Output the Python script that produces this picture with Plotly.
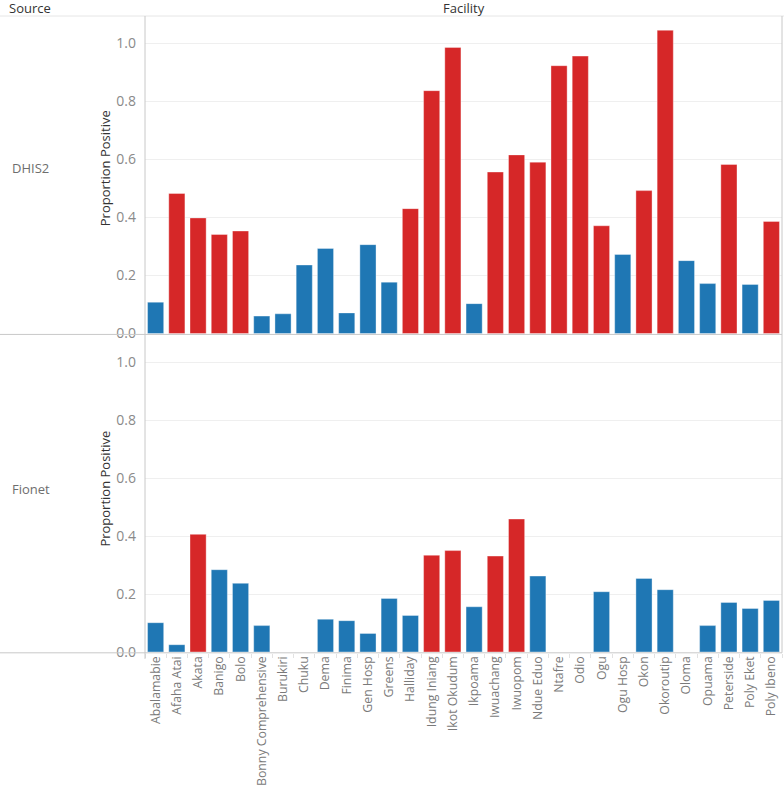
import plotly.graph_objects as go
from plotly.subplots import make_subplots

facilities = [
    "Abalamabie", "Afaha Atai", "Akata", "Banigo", "Bolo", "Bonny Comprehensive",
    "Burukiri", "Chuku", "Dema", "Finima", "Gen Hosp", "Greens", "Halliday",
    "Idung Iniang", "Ikot Okudum", "Ikpoama", "Iwuachang", "Iwuopom", "Ndue Eduo",
    "Ntafre", "Odio", "Ogu", "Ogu Hosp", "Okon", "Okoroutip", "Oloma", "Opuama",
    "Peterside", "Poly Eket", "Poly Ibeno",
]
dhis2 = [
    0.108, 0.482, 0.398, 0.341, 0.353, 0.060, 0.068, 0.236, 0.293, 0.071,
    0.306, 0.177, 0.430, 0.836, 0.985, 0.103, 0.556, 0.615, 0.590, 0.922,
    0.955, 0.371, 0.272, 0.492, 1.044, 0.251, 0.172, 0.582, 0.169, 0.386,
]
fionet = [
    0.101, 0.025, 0.406, 0.284, 0.237, 0.091, None, None, 0.113, 0.108,
    0.064, 0.185, 0.126, 0.334, 0.350, 0.156, 0.331, 0.459, 0.262, None,
    None, 0.208, None, 0.254, 0.215, None, 0.091, 0.171, 0.150, 0.178,
]
sources = ["DHIS2", "Fionet"]
threshold = 0.32

RED = "#d62728"
BLUE = "#1f77b4"
GRID = "#efefef"
BORDER = "#c8c8c8"
FONT = "Open Sans"

W, H = 784, 791
FIG_H = 800  # page height; positions below are laid out on a 791px grid
x0, x1 = 145, 782
top_t, top_b = 16, 334
bot_t, bot_b = 335, 652
row_label_y = [168, 488]


def py(p):
    return 1 - p / H


fig = make_subplots(rows=2, cols=1, shared_xaxes=True, vertical_spacing=0)

for i, vals in enumerate([dhis2, fionet], start=1):
    colors = [RED if (v is not None and v > threshold) else BLUE for v in vals]
    fig.add_trace(
        go.Bar(
            x=facilities, y=vals, marker_color=colors,
            marker_line=dict(color="rgba(255,255,255,0.6)", width=0.6),
            showlegend=False,
        ),
        row=i, col=1,
    )

yax_common = dict(
    range=[-0.003, 1.093], tickvals=[0, 0.2, 0.4, 0.6, 0.8, 1.0],
    ticktext=["0.0", "0.2", "0.4", "0.6", "0.8", "1.0"],
    showgrid=True, gridcolor=GRID, gridwidth=1, zeroline=False,
    showline=False, ticks="", ticklabelstandoff=8,
    tickfont=dict(family=FONT, size=14, color="#8a8a8a"),
)
fig.update_layout(
    width=W, height=FIG_H,
    margin=dict(l=0, r=0, t=0, b=0),
    plot_bgcolor="white", paper_bgcolor="white",
    bargap=0.24,
    font=dict(family=FONT),
    xaxis=dict(domain=[x0 / W, x1 / W], showticklabels=False, showgrid=False,
               zeroline=False, showline=False),
    xaxis2=dict(domain=[x0 / W, x1 / W], showgrid=False, zeroline=False,
                showline=False, tickangle=-90, ticks="outside", tickson="boundaries",
                ticklen=4, tickcolor="#e2e2e2",
                tickfont=dict(family=FONT, size=12.3, color="#7a7a7a")),
    yaxis=dict(domain=[py(top_b), py(top_t)], **yax_common),
    yaxis2=dict(domain=[py(bot_b), py(bot_t)], **yax_common),
)


def line(xa, ya, xb, yb, color=BORDER, width=1):
    fig.add_shape(type="line", xref="paper", yref="paper",
                  x0=xa / W, x1=xb / W, y0=py(ya), y1=py(yb),
                  line=dict(color=color, width=width))


# header and frame lines
line(0, top_t, W, top_t, color="#e6e6e6")
line(0, top_b, x1, top_b)
line(0, bot_b, x1, bot_b)
line(x0, top_t, x0, bot_b + 6)
line(x1, top_t, x1, bot_b)

ann = []


def label(x, y, text, color, size=13, anchor="left", angle=0):
    ann.append(dict(x=x / W, y=py(y), xref="paper", yref="paper", text=text,
                    showarrow=False, xanchor=anchor, yanchor="middle", textangle=angle,
                    font=dict(family=FONT, size=size, color=color)))


label(7, 8, "Source", "#333333")
label(464, 8, "Facility", "#333333", anchor="center")
for name, ly in zip(sources, row_label_y):
    label(10, ly, name, "#6e6e6e")
    label(105, ly, "Proportion Positive", "#333333", anchor="center", angle=-90)
fig.update_layout(annotations=ann)

fig.write_html(
    "out.html",
    config={"displayModeBar": False},
    post_script=(
        "document.body.style.margin='0';"
        "document.documentElement.style.overflow='hidden';"
        "var d=document.getElementById('{plot_id}');"
        "d.style.display='block';"
        "d.parentElement.style.overflow='hidden';"
    ),
)
